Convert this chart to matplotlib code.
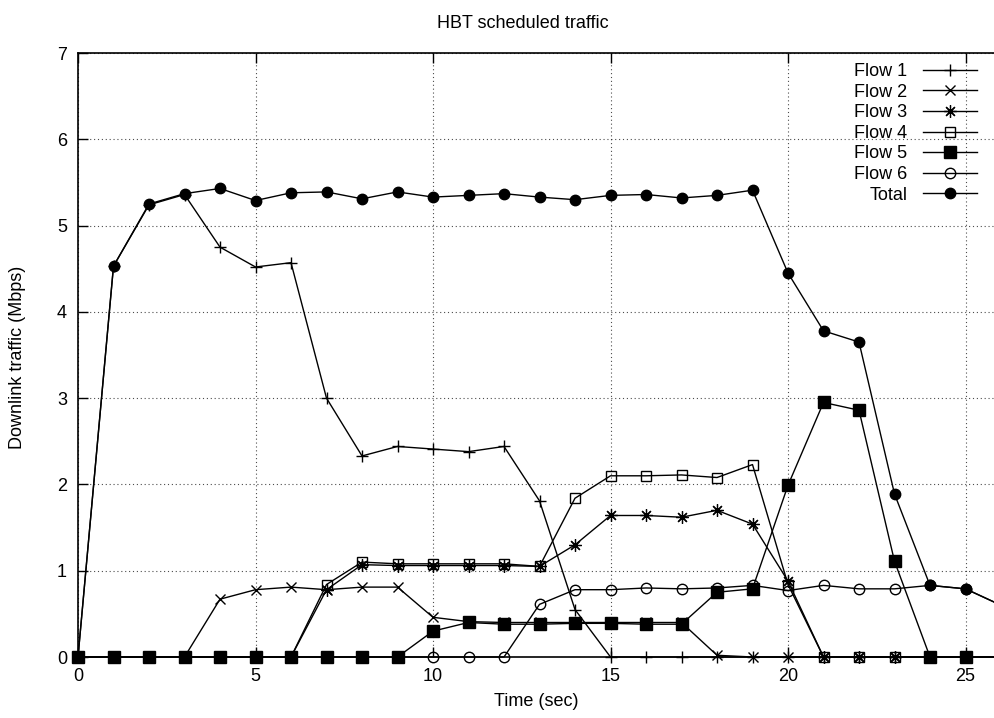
import numpy as np
import matplotlib
matplotlib.use("Agg")
import matplotlib.pyplot as plt

plt.rcParams['font.family'] = ['Liberation Sans', 'DejaVu Sans']

t = list(range(27))

flow1 = [0, 4.53, 5.24, 5.36, 4.75, 4.52, 4.57, 3.00, 2.33, 2.44, 2.41, 2.38, 2.44, 1.81, 0.55,
         0, 0, 0, 0, 0, 0, 0, 0, 0, 0, 0, 0]
flow2 = [0, 0, 0, 0, 0.67, 0.78, 0.81, 0.78, 0.81, 0.81, 0.46, 0.41, 0.40, 0.40, 0.40,
         0.40, 0.40, 0.40, 0.02, 0, 0, 0, 0, 0, 0, 0, 0]
flow3 = [0, 0, 0, 0, 0, 0, 0, 0.78, 1.07, 1.06, 1.06, 1.06, 1.06, 1.05, 1.30,
         1.64, 1.64, 1.62, 1.70, 1.54, 0.88, 0, 0, 0, 0, 0, 0]
flow4 = [0, 0, 0, 0, 0, 0, 0, 0.84, 1.10, 1.08, 1.08, 1.08, 1.08, 1.05, 1.84,
         2.10, 2.10, 2.11, 2.08, 2.23, 0.84, 0, 0, 0, 0, 0, 0]
flow5 = [0, 0, 0, 0, 0, 0, 0, 0, 0, 0, 0.30, 0.40, 0.38, 0.38, 0.39,
         0.39, 0.38, 0.38, 0.75, 0.79, 1.99, 2.95, 2.86, 1.11, 0, 0, 0]
flow6 = [0, 0, 0, 0, 0, 0, 0, 0, 0, 0, 0, 0, 0, 0.61, 0.78,
         0.78, 0.80, 0.79, 0.80, 0.83, 0.77, 0.83, 0.79, 0.79, 0.83, 0.79, 0.60]
total = [0, 4.53, 5.25, 5.37, 5.43, 5.29, 5.38, 5.39, 5.31, 5.39, 5.33, 5.35, 5.37, 5.33, 5.30,
         5.35, 5.36, 5.32, 5.35, 5.41, 4.45, 3.78, 3.65, 1.89, 0.83, 0.79, 0.60]

series = [
    ("Flow 1", flow1, dict(marker='+', ms=9, mew=1.0, mfc='none')),
    ("Flow 2", flow2, dict(marker='x', ms=7, mew=1.0, mfc='none')),
    ("Flow 3", flow3, dict(marker=(8, 2, 0), ms=9, mew=0.9, mfc='none')),
    ("Flow 4", flow4, dict(marker='s', ms=7.5, mew=1.0, mfc='none')),
    ("Flow 5", flow5, dict(marker='s', ms=8, mew=1.0, mfc='black')),
    ("Flow 6", flow6, dict(marker='o', ms=7.5, mew=1.0, mfc='none')),
    ("Total", total, dict(marker='o', ms=7.5, mew=1.0, mfc='black')),
]

fig = plt.figure(figsize=(9.94, 7.18), dpi=100)
ax = fig.add_axes([78 / 994, 1 - 657 / 718, 1 - 78 / 994, (657 - 53) / 718])

for name, vals, style in series:
    ax.plot(t, vals, color='black', lw=1.0, mec='black', label=name, clip_on=False, **style)

ax.set_xlim(0, (994 - 78) / 35.5)
ax.set_ylim(0, 7)
ax.set_xticks([0, 5, 10, 15, 20, 25])
ax.set_yticks(range(8))
ax.grid(True, color='black', linestyle=(0, (1, 2.5)), lw=0.8, alpha=0.7)
ax.tick_params(direction='in', length=7, width=1.0, top=True, right=False,
               labelsize=13, pad=8)
ax.spines['right'].set_visible(False)
for s in ['left', 'top', 'bottom']:
    ax.spines[s].set_linewidth(1.2)

ax.set_xlabel('Time (sec)', fontsize=13, labelpad=6)
fig.text(18 / 994, 1 - 357 / 718, 'Downlink traffic (Mbps)', rotation=90,
         ha='center', va='center', fontsize=13)
fig.text(523 / 994, 1 - 23 / 718, 'HBT scheduled traffic', ha='center', va='center', fontsize=13)

ax.legend(loc='upper right', bbox_to_anchor=(977 / 994, 1 - 63 / 718),
          bbox_transform=fig.transFigure, frameon=False, markerfirst=False,
          fontsize=13, handlelength=3.0, handletextpad=0.85, labelspacing=0.2,
          borderpad=0, borderaxespad=0)

fig.savefig('out.png', dpi=100)
